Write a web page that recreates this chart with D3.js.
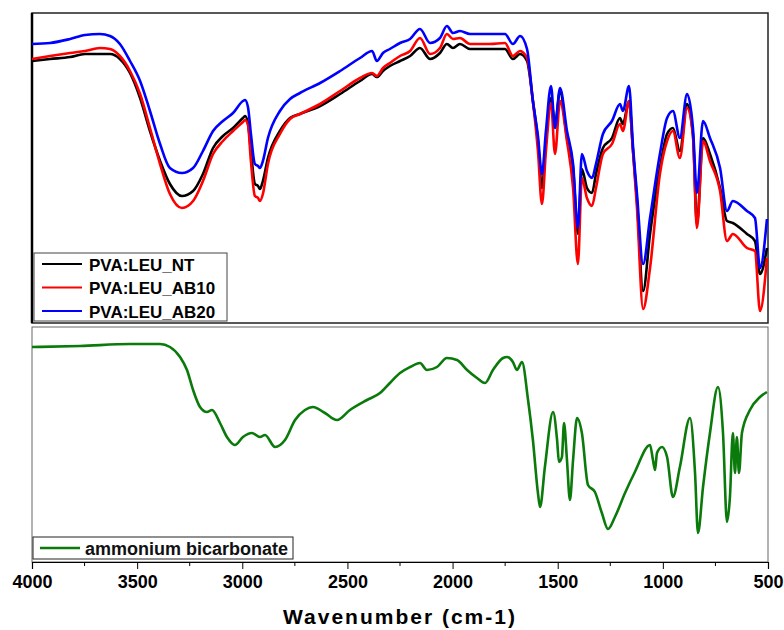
<!DOCTYPE html>
<html>
<head>
<meta charset="utf-8">
<script src="https://cdn.jsdelivr.net/npm/d3@7"></script>
<style>
  body { margin: 0; background: #fff; }
  text { font-family: Arial, "Liberation Sans", sans-serif; }
</style>
</head>
<body>
<svg id="chart" width="784" height="630"></svg>
<script>
'use strict';

// top panel: PVA:LEU films (transmittance, a.u.)
let topWn = [4000,3914,3819,3748,3677,3629,3582,3534,3486,3439,3391,3344,3287,3234,3187,3139,3092,3044,2997,2987,2973,2959,2940,2925,2916,2902,2878,2821,2773,2726,2630,2535,2440,2383,2360,2331,2298,2250,2202,2155,2107,2060,2027,1998,1965,1917,1822,1751,1713,1679,1646,1618,1594,1575,1556,1532,1513,1489,1456,1427,1404,1385,1361,1337,1318,1285,1242,1204,1190,1161,1142,1123,1094,1061,1014,980,952,919,885,857,838,809,776,728,695,667,600,562,538,505];
let nt   = [262,264,266,269,269,269,264,250,225,192,162,139,127,132,149,175,187,195,205,207,200,172,139,137,134,142,165,192,205,209,217,229,242,249,246,252,257,262,267,275,264,270,279,275,279,274,274,274,264,269,262,222,182,135,182,225,199,232,185,155,89,154,135,130,149,175,185,205,199,222,172,122,32,89,155,189,195,172,219,189,99,185,169,135,102,100,89,82,49,75];
let ab10 = [264,267,270,272,275,274,267,252,229,195,159,129,115,122,142,169,182,192,201,203,198,162,127,125,122,129,159,189,204,209,219,232,245,250,247,255,260,267,272,285,269,275,289,284,285,279,279,280,267,272,265,222,172,119,172,220,169,222,182,135,59,145,125,117,135,169,179,199,192,222,172,115,14,55,149,182,192,165,215,187,95,182,162,132,82,89,75,72,12,65];
let ab20 = [279,280,284,288,289,287,279,262,242,212,179,155,150,155,172,192,202,210,222,223,216,189,159,157,155,162,185,212,224,230,240,252,265,272,262,270,274,280,284,294,280,285,297,290,292,289,289,289,279,287,274,222,187,149,192,237,195,235,192,159,95,169,152,145,159,189,202,219,212,237,177,129,59,105,169,205,212,185,229,195,130,202,185,155,112,122,112,105,55,104];

// bottom panel: ammonium bicarbonate
let botWn = [4000,3772,3534,3391,3344,3296,3263,3234,3201,3168,3144,3106,3073,3035,2997,2954,2916,2892,2844,2797,2749,2702,2664,2607,2550,2488,2407,2345,2298,2250,2202,2155,2122,2074,2027,1979,1931,1884,1846,1808,1760,1741,1713,1694,1670,1641,1618,1594,1584,1561,1522,1503,1494,1480,1470,1456,1442,1427,1408,1385,1356,1323,1290,1261,1228,1180,1133,1061,1047,1037,1028,1004,980,952,919,871,847,833,809,776,738,714,695,681,667,657,648,638,624,586,538,505];
let ammonium = [215,216,218,218,215,205,192,172,155,150,152,139,125,117,125,129,125,127,115,122,142,152,155,149,142,152,162,169,179,189,195,199,192,195,204,202,192,184,179,192,204,205,200,192,200,162,122,69,55,95,150,122,100,105,139,102,62,102,144,129,77,70,49,33,45,69,90,117,102,92,109,115,105,65,95,144,89,29,75,129,175,129,40,65,129,89,125,89,129,152,165,170];

let majorTicks = [4000, 3500, 3000, 2500, 2000, 1500, 1000, 500];
let minorTicks = [3750, 3250, 2750, 2250, 1750, 1250, 750];

let topSeries = [
    { name: "PVA:LEU_NT", values: nt, color: "#000000" },
    { name: "PVA:LEU_AB10", values: ab10, color: "#ff0000" },
    { name: "PVA:LEU_AB20", values: ab20, color: "#0000ff" }
];
let botSeries = [{ name: "ammonium bicarbonate", values: ammonium, color: "#0a7a0a" }];

function zipSeries(wn, vals) {
    let n = Math.min(wn.length, vals.length);
    return d3.range(n).map(i => ({ x: wn[i], y: vals[i] }));
}

function drawChart() {
    let svg = d3.select("#chart");

    let left = 32, right = 768;
    let topPanel = { top: 13, bottom: 323 };
    let botPanel = { top: 327, bottom: 562 };

    let x = d3.scaleLinear().domain([4000, 500]).range([left, right]);
    let yTop = d3.scaleLinear().domain([0, 310]).range([topPanel.bottom, topPanel.top]);
    let yBot = d3.scaleLinear().domain([0, 235]).range([botPanel.bottom, botPanel.top]);

    // panel frames
    svg.append("rect")
        .attr("x", left).attr("y", botPanel.top)
        .attr("width", right - left).attr("height", botPanel.bottom - botPanel.top)
        .style("fill", "none").style("stroke", "#666").style("stroke-width", "1px");

    svg.append("rect")
        .attr("x", left).attr("y", topPanel.top)
        .attr("width", right - left).attr("height", topPanel.bottom - topPanel.top)
        .style("fill", "none").style("stroke", "#222").style("stroke-width", "1.5px");

    svg.append("line")
        .attr("x1", left).attr("x2", left)
        .attr("y1", topPanel.top).attr("y2", topPanel.bottom)
        .style("stroke", "#000").style("stroke-width", "2.5px");

    let lineTop = d3.line().x(d => x(d.x)).y(d => yTop(d.y)).curve(d3.curveMonotoneX);
    let lineBot = d3.line().x(d => x(d.x)).y(d => yBot(d.y)).curve(d3.curveMonotoneX);

    svg.append("g")
        .selectAll("path")
        .data(topSeries)
        .enter()
        .append("path")
        .attr("d", s => lineTop(zipSeries(topWn, s.values)))
        .style("fill", "none")
        .style("stroke", s => s.color)
        .style("stroke-width", "2.6px")
        .style("stroke-linejoin", "round");

    svg.append("g")
        .selectAll("path")
        .data(botSeries)
        .enter()
        .append("path")
        .attr("d", s => lineBot(zipSeries(botWn, s.values)))
        .style("fill", "none")
        .style("stroke", s => s.color)
        .style("stroke-width", "2.6px")
        .style("stroke-linejoin", "round");

    // legends
    let legTop = svg.append("g").attr("transform", "translate(34,253)");
    legTop.append("rect")
        .attr("width", 193).attr("height", 68)
        .style("fill", "#fff").style("stroke", "#444").style("stroke-width", "1px");
    let rows = legTop.selectAll("g.row")
        .data(topSeries)
        .enter()
        .append("g")
        .attr("class", "row")
        .attr("transform", (d, i) => "translate(0," + (11 + i * 23.5) + ")");
    rows.append("line")
        .attr("x1", 8).attr("x2", 48)
        .style("stroke", d => d.color).style("stroke-width", "2.2px");
    rows.append("text")
        .attr("x", 55).attr("y", 6.5)
        .style("font-size", "17px").style("font-weight", "bold")
        .text(d => d.name);

    let legBot = svg.append("g").attr("transform", "translate(33,537)");
    legBot.append("rect")
        .attr("width", 260).attr("height", 22)
        .style("fill", "#fff").style("stroke", "#222").style("stroke-width", "1px");
    legBot.append("line")
        .attr("x1", 7).attr("x2", 47).attr("y1", 11).attr("y2", 11)
        .style("stroke", botSeries[0].color).style("stroke-width", "2.6px");
    legBot.append("text")
        .attr("x", 52).attr("y", 17.5)
        .style("font-size", "18px").style("font-weight", "bold")
        .style("fill", "#111")
        .text(botSeries[0].name);

    // x axis
    let xAxis = d3.axisBottom(x)
        .tickValues(majorTicks)
        .tickSize(7)
        .tickPadding(6)
        .tickFormat(d3.format("d"));

    let gx = svg.append("g")
        .attr("transform", "translate(0," + botPanel.bottom + ")")
        .call(xAxis);
    gx.select(".domain").style("stroke", "#000").style("stroke-width", "1.2px");
    gx.selectAll(".tick line").style("stroke", "#000");
    gx.selectAll("text")
        .style("font-size", "18px")
        .style("font-weight", "bold")
        .style("font-family", "Arial, 'Liberation Sans', sans-serif")
        .style("fill", "#000");

    svg.append("g")
        .attr("transform", "translate(0," + botPanel.bottom + ")")
        .selectAll("line")
        .data(minorTicks)
        .enter()
        .append("line")
        .attr("x1", d => x(d)).attr("x2", d => x(d))
        .attr("y1", 0).attr("y2", 4)
        .style("stroke", "#000");

    svg.append("text")
        .attr("x", (left + right) / 2)
        .attr("y", 624)
        .style("text-anchor", "middle")
        .style("font-size", "21px")
        .style("font-weight", "bold")
        .style("letter-spacing", "2px")
        .text("Wavenumber (cm-1)");
}

drawChart();
</script>
</body>
</html>
